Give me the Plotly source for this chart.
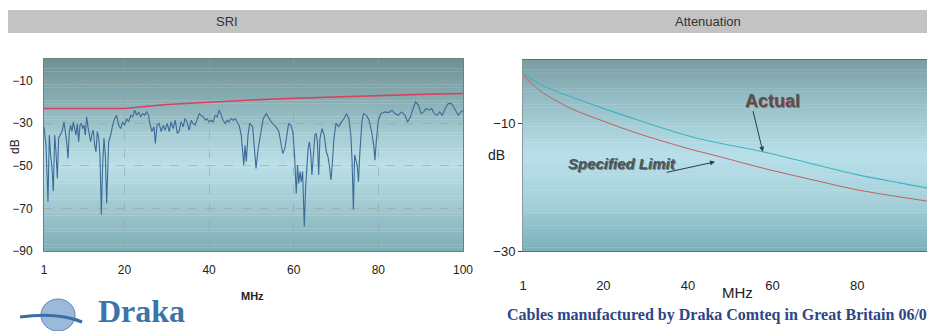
import plotly.graph_objects as go

sri_mhz = [1.0, 1.47, 1.94, 2.26, 2.57, 2.89, 3.2, 3.52, 3.83, 4.15, 4.46, 4.78, 5.25, 5.72, 6.04,
           6.35, 6.67, 6.98, 7.3, 7.61, 7.93, 8.24, 8.56, 8.87, 9.19, 9.5, 9.82, 10.13, 10.45, 10.76,
           11.08, 11.39, 11.71, 12.02, 12.34, 12.65, 12.97, 13.28, 13.6, 13.91, 14.23, 14.54, 14.86,
           15.17, 15.49, 15.8, 16.28, 16.75, 17.22, 17.69, 18.17, 18.64, 19.11, 19.58, 20.06, 20.53,
           21.0, 21.47, 21.94, 22.42, 22.89, 23.36, 23.83, 24.31, 24.78, 25.25, 25.72,
           26.0, 26.5, 27.0, 27.3, 27.7, 28.2, 28.7, 29.2, 29.6, 30.1, 30.6, 31.0, 31.5, 32.0, 32.5,
           32.9, 33.4, 33.9, 34.3, 34.8, 35.3, 35.8, 36.2, 36.7, 37.2, 37.7, 38.1, 38.6, 39.1, 39.5,
           40.0, 40.5, 41.0, 41.4, 41.9, 42.4, 42.9, 43.3, 43.8, 44.3, 44.7, 45.2, 45.7, 46.2, 46.6,
           47.1, 47.6, 47.9, 48.2, 48.5, 48.8, 49.2, 49.6,
           50.3, 50.8, 51.1, 51.6, 52.2, 52.8, 53.5, 54.1, 54.7, 55.4, 55.8, 56.5, 56.9, 57.4, 57.9,
           58.4, 58.8, 59.3, 59.8, 60.2, 60.6, 60.9, 61.2, 61.5, 61.8, 62.1, 62.5, 62.8, 63.1, 63.4,
           63.7, 64.0, 64.3, 64.7, 65.0, 65.3, 65.6, 65.9, 66.2, 66.7, 67.2, 67.7, 68.1, 68.4, 68.8,
           69.1, 69.5, 70.0, 70.6, 71.3, 71.9, 72.5, 73.0, 73.5, 73.8, 74.1, 74.4,
           75.0, 75.3, 75.6, 76.1, 76.5, 77.2, 77.8, 78.4, 78.9, 79.2, 79.5, 80.0, 80.6, 81.6, 82.4,
           83.2, 83.9, 84.7, 85.5, 86.3, 86.9, 87.6, 88.2, 88.8, 89.5, 90.1, 90.7, 91.3, 92.0, 92.6,
           93.2, 93.9, 94.5, 95.1, 95.8, 96.5, 97.3, 98.1, 98.9, 99.5, 100.0]
sri_db = [-31.8, -40.4, -66.9, -35.7, -45, -51, -62, -35.7, -43.5, -56, -37, -35.7, -34, -29.5, -34,
          -38.8, -46.6, -34, -31, -34, -29.5, -32.6, -35.7, -30.2, -38.8, -31, -30.2, -32.6, -31, -35.7,
          -27.1, -31.8, -35.7, -38.8, -35, -33.4, -40.4, -43.5, -34, -37, -45, -73, -49.7,
          -37, -45, -67.7, -38.8, -35.7, -31, -28, -26.4, -31, -32.6, -29.5, -31, -28,
          -29.5, -26.4, -27.1, -24, -26.4, -24.8, -27.1, -25.6, -26.4, -24.8, -26.4,
          -30.2, -34, -31.8, -39.6, -31, -30.2, -34, -31, -33.4, -30.2, -34, -29.5, -32.6, -28.7, -34.9,
          -34, -29.5, -31.8, -27.9, -29.5, -33.4, -28.7, -30.2, -31, -27.9, -25.6, -26.4, -27.1, -28.7, -27.9,
          -29.5, -28.7, -29.5, -26.4, -27.1, -24, -26.4, -28.7, -30.2, -28.7, -29.5, -27.9, -28.7, -27.9, -29.5,
          -31, -35.7, -41.9, -49.7, -40.4, -48.2, -35.7, -30.2,
          -31.8, -45, -51.3, -42, -34, -27.9, -25.6, -27.9, -29.5, -31, -31.8, -34, -38.8, -44.3, -42,
          -34, -30.2, -31, -34, -45, -63, -49.7, -58.3, -52.8, -57.5, -52.8, -78.5, -60.6, -49.7, -42,
          -38.8, -43.5, -54.4, -42, -35.7, -34.9, -38.8, -54.4, -37.3, -32.6, -35.7, -43.5, -45.8, -49.7, -56.7,
          -49.7, -37.3, -30.2, -31.8, -29.5, -27.9, -25.6, -27.9, -35.7, -48.2, -70.7, -45,
          -49.7, -57.5, -45, -29.5, -25.6, -26.4, -28.7, -34, -40.4, -47.4, -38.8, -28.7, -25.6, -24.8, -25.1,
          -24, -25.6, -26.4, -24.8, -26.4, -29.5, -27.1, -23.2, -20.1, -21.7, -25.6, -24.8, -23.2, -24, -23.2,
          -25.6, -26.4, -24.8, -26.4, -23.2, -20.9, -20.9, -24, -26.4, -24.8, -24]

# SRI limit line
lim_mhz = [1, 20, 30, 40, 50, 60, 70, 80, 90, 100]
lim_db = [-23.2, -23.2, -21.3, -20.2, -19.2, -18.4, -17.7, -17.1, -16.6, -16.2]

# Attenuation curves
att_mhz = [1, 5, 12, 20, 28, 40, 47, 59, 70, 80, 90, 100]
att_limit = [-2.3, -4.8, -7.5, -9.6, -11.5, -13.9, -15.1, -17.2, -18.9, -20.4, -21.5, -22.5]
att_actual = [-2.0, -3.8, -5.7, -7.6, -9.4, -11.9, -13.0, -14.6, -16.4, -18.0, -19.3, -20.5]

sri_xticks = [1, 20, 40, 60, 80, 100]
sri_yticks = [-10, -30, -50, -70, -90]
att_xticks = [1, 20, 40, 60, 80]
att_yticks = [-10, -30]

# the page body has an 8px margin, so the figure is shrunk to fit the window
OFF = 8
W, H = 935 - OFF, 331 - OFF


def px(x):
    return (x - OFF) / W


def py(y):
    return 1 - (y - OFF) / H


def hexrgb(h):
    h = h.lstrip("#")
    return [int(h[i:i + 2], 16) for i in (0, 2, 4)]


def gradient(stops, xref, yref, n=60):
    # stops: (fraction from top, colour)
    shapes = []
    for i in range(n):
        t = (i + 0.5) / n
        for (t0, c0), (t1, c1) in zip(stops[:-1], stops[1:]):
            if t0 <= t <= t1:
                f = (t - t0) / (t1 - t0)
                a, b = hexrgb(c0), hexrgb(c1)
                col = "rgb(%d,%d,%d)" % tuple(round(a[k] + (b[k] - a[k]) * f) for k in range(3))
                break
        shapes.append(dict(type="rect", xref=xref, yref=yref, x0=0, x1=1,
                           y0=1 - (i + 1) / n, y1=1 - i / n + 0.002,
                           fillcolor=col, line=dict(width=0), layer="below"))
    return shapes


fig = go.Figure()

fig.add_trace(go.Scatter(x=sri_mhz, y=sri_db, mode="lines",
                         line=dict(color="#3c6b98", width=1.1), xaxis="x", yaxis="y"))
fig.add_trace(go.Scatter(x=lim_mhz, y=lim_db, mode="lines",
                         line=dict(color="#d8425e", width=1.6), xaxis="x", yaxis="y"))
fig.add_trace(go.Scatter(x=att_mhz, y=att_limit, mode="lines", line_shape="spline",
                         line=dict(color="#c0605e", width=1), xaxis="x2", yaxis="y2"))
fig.add_trace(go.Scatter(x=att_mhz, y=att_actual, mode="lines", line_shape="spline",
                         line=dict(color="#3fb3c4", width=1.1), xaxis="x2", yaxis="y2"))

ARIAL = "Arial, Liberation Sans, sans-serif"
SERIF = "Liberation Serif, Times New Roman, serif"
NARROW = "Liberation Sans Narrow, Arial Narrow, sans-serif"
axis_font = dict(family=ARIAL, size=12, color="#222")
grid = dict(showgrid=True, gridcolor="rgba(150,160,150,0.55)", griddash="dash", gridwidth=1)

shapes = []
shapes += gradient([(0, "#6d9094"), (0.2, "#86acb2"), (0.4, "#a6ccd4"), (0.55, "#bbdfe7"),
                    (0.75, "#a3cbd3"), (1, "#7eaeb6")], "x domain", "y domain")
shapes += gradient([(0, "#7a9da2"), (0.2, "#93bcc4"), (0.5, "#b8e0ea"),
                    (0.75, "#a5d0da"), (1, "#7ab0ba")], "x2 domain", "y2 domain")
# title bar
shapes.append(dict(type="rect", xref="paper", yref="paper", x0=px(8), x1=1, y0=py(33), y1=py(10),
                   fillcolor="#c3c3c3", line=dict(width=0), layer="below"))
# logo globe
shapes.append(dict(type="circle", xref="paper", yref="paper", x0=px(41), x1=px(75), y0=py(331), y1=py(299),
                   fillcolor="#9bb9da", line=dict(color="#5a83b0", width=1)))
shapes.append(dict(type="path", xref="paper", yref="paper",
                   path="M %f %f Q %f %f %f %f" % (px(20), py(317), px(58), py(312), px(82), py(322)),
                   line=dict(color="#3b6ea5", width=3)))


def label(text, x, y, size, color="#222", family=ARIAL, **kw):
    return dict(text=text, x=px(x), y=py(y), xref="paper", yref="paper", showarrow=False,
                xanchor=kw.pop("xanchor", "center"), yanchor="middle",
                font=dict(family=family, size=size, color=color), **kw)


annotations = [
    label("SRI", 227, 21, 13, "#333"),
    label("Attenuation", 708, 21, 13, "#333"),
    label("dB", 15, 147, 12, textangle=-90),
    label("<b>MHz</b>", 252, 296, 11),
    label("dB", 496, 155, 14),
    label("MHz", 737, 292, 15),
    dict(text="<b>Actual</b>", x=60.1, y=-6.4, xref="x2", yref="y2", showarrow=False,
         xanchor="center", yanchor="middle",
         font=dict(family=NARROW, size=18, color="#4a5656", shadow="1px 1px 0px #b85a5a")),
    dict(text="", x=57.7, y=-14.4, ax=55.3, ay=-7.8, xref="x2", yref="y2", axref="x2", ayref="y2",
         showarrow=True, arrowhead=2, arrowsize=1, arrowwidth=1, arrowcolor="#2f3d40"),
    dict(text="<b><i>Specified Limit</i></b>", x=24.4, y=-16.3, xref="x2", yref="y2", showarrow=False,
         xanchor="center", yanchor="middle",
         font=dict(family=NARROW, size=15, color="#4a5656", shadow="1px 1px 0px #6d7a7a")),
    dict(text="", x=46.4, y=-16.0, ax=34.6, ay=-17.7, xref="x2", yref="y2", axref="x2", ayref="y2",
         showarrow=True, arrowhead=2, arrowsize=1, arrowwidth=1, arrowcolor="#2f3d40"),
    label("<b>Draka</b>", 96, 311, 32, "#3a74a8", SERIF, xanchor="left"),
    label("<b>Cables manufactured by Draka Comteq in Great Britain 06/07</b>", 505, 315, 16, "#2c4686",
          SERIF, xanchor="left"),
]

fig.update_layout(
    width=W, height=H, margin=dict(l=0, r=0, t=0, b=0, autoexpand=False),
    paper_bgcolor="white", plot_bgcolor="rgba(0,0,0,0)", showlegend=False,
    xaxis=dict(domain=[px(44), px(463)], range=[1, 100], tickvals=sri_xticks, ticks="",
               ticklabelstandoff=8, tickfont=axis_font, zeroline=False, automargin=False,
               showline=True, mirror=True, linecolor="#6f7f80", linewidth=1, **grid),
    yaxis=dict(domain=[py(251), py(59)], range=[-90, 0], tickvals=sri_yticks, ticks="",
               ticklabelstandoff=8, tickfont=axis_font, zeroline=False, automargin=False,
               showline=True, mirror=True, linecolor="#6f7f80", linewidth=1, **grid),
    xaxis2=dict(domain=[px(523), 1], range=[1, 98.4], tickvals=att_xticks, ticks="",
                ticklabelstandoff=22, zeroline=False, showgrid=False, anchor="y2", automargin=False,
                tickfont=dict(family=ARIAL, size=13, color="#222"),
                showline=True, mirror=True, linecolor="#5f6f70", linewidth=1),
    yaxis2=dict(domain=[py(251), py(60)], range=[-30, 0], tickvals=att_yticks, ticks="outside",
                ticklen=4, tickcolor="#444", zeroline=False, showgrid=False, anchor="x2", automargin=False,
                tickfont=dict(family=ARIAL, size=13, color="#222"),
                showline=True, mirror=True, linecolor="#8a9a9b", linewidth=1),
    shapes=shapes,
    annotations=annotations,
)

fig.write_html("out.html")
